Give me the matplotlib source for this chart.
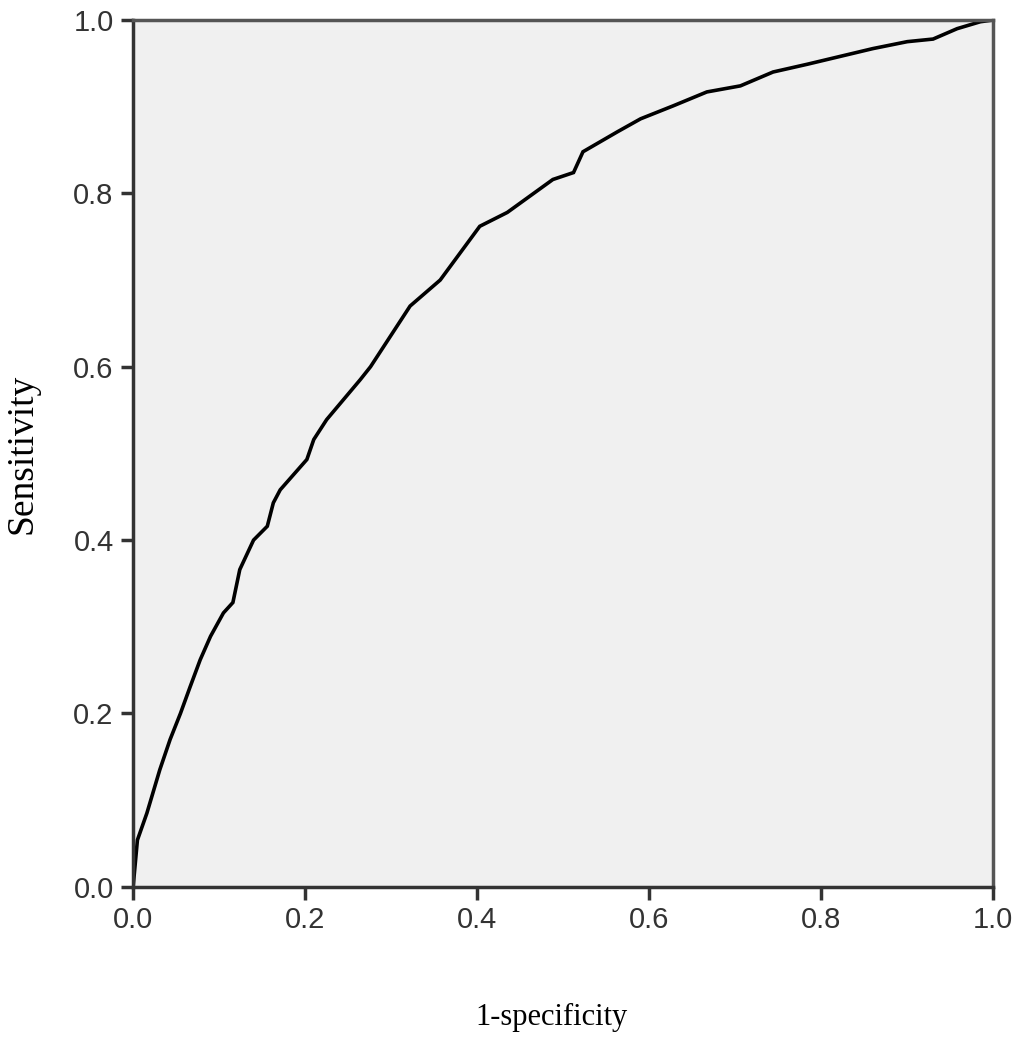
import matplotlib
matplotlib.use("Agg")
import matplotlib.pyplot as plt

# ROC curve points
fpr = [0.0, 0.005, 0.016, 0.031, 0.043, 0.055, 0.066, 0.078, 0.090, 0.105, 0.116,
       0.124, 0.140, 0.156, 0.163, 0.171, 0.202, 0.210, 0.225, 0.264, 0.276, 0.322,
       0.357, 0.403, 0.435, 0.488, 0.512, 0.523, 0.563, 0.590, 0.628, 0.667, 0.706,
       0.744, 0.784, 0.822, 0.860, 0.900, 0.930, 0.958, 0.985, 1.0]
tpr = [0.0, 0.054, 0.085, 0.135, 0.170, 0.200, 0.230, 0.262, 0.289, 0.316, 0.328,
       0.366, 0.400, 0.416, 0.443, 0.458, 0.493, 0.516, 0.539, 0.585, 0.600, 0.670,
       0.700, 0.762, 0.778, 0.816, 0.824, 0.848, 0.871, 0.886, 0.901, 0.917, 0.924,
       0.940, 0.949, 0.958, 0.967, 0.975, 0.978, 0.990, 0.998, 1.0]

ticks = [0.0, 0.2, 0.4, 0.6, 0.8, 1.0]
tick_labels = ["0.0", "0.2", "0.4", "0.6", "0.8", "1.0"]

fig = plt.figure(figsize=(10.24, 10.52), dpi=100)
ax = fig.add_axes([0.130, 0.157, 0.840, 0.824])
ax.set_facecolor("#f0f0f0")

ax.plot(fpr, tpr, color="black", linewidth=2.6, solid_joinstyle="miter")

ax.set_xlim(0, 1)
ax.set_ylim(0, 1)
ax.set_xticks(ticks)
ax.set_xticklabels(tick_labels)
ax.set_yticks(ticks)
ax.set_yticklabels(tick_labels)

for side in ["left", "bottom", "top", "right"]:
    ax.spines[side].set_linewidth(2.5)
    ax.spines[side].set_color("#555555")
ax.spines["left"].set_color("#333333")
ax.spines["bottom"].set_color("#333333")

ax.tick_params(length=9, width=2.5, color="#333333", labelsize=21,
               labelcolor="#333333", pad=5)
for lab in ax.get_xticklabels() + ax.get_yticklabels():
    lab.set_family("Liberation Sans")

ax.set_xlabel("1-specificity", family="Liberation Serif", fontsize=22)
ax.set_ylabel("Sensitivity", family="Liberation Serif", fontsize=27)
ax.xaxis.set_label_coords(0.486, -0.151)
ax.yaxis.set_label_coords(-0.129, 0.5)
ax.xaxis.label.set_va("center")
ax.yaxis.label.set_va("center")

fig.savefig("out.png", dpi=100)
